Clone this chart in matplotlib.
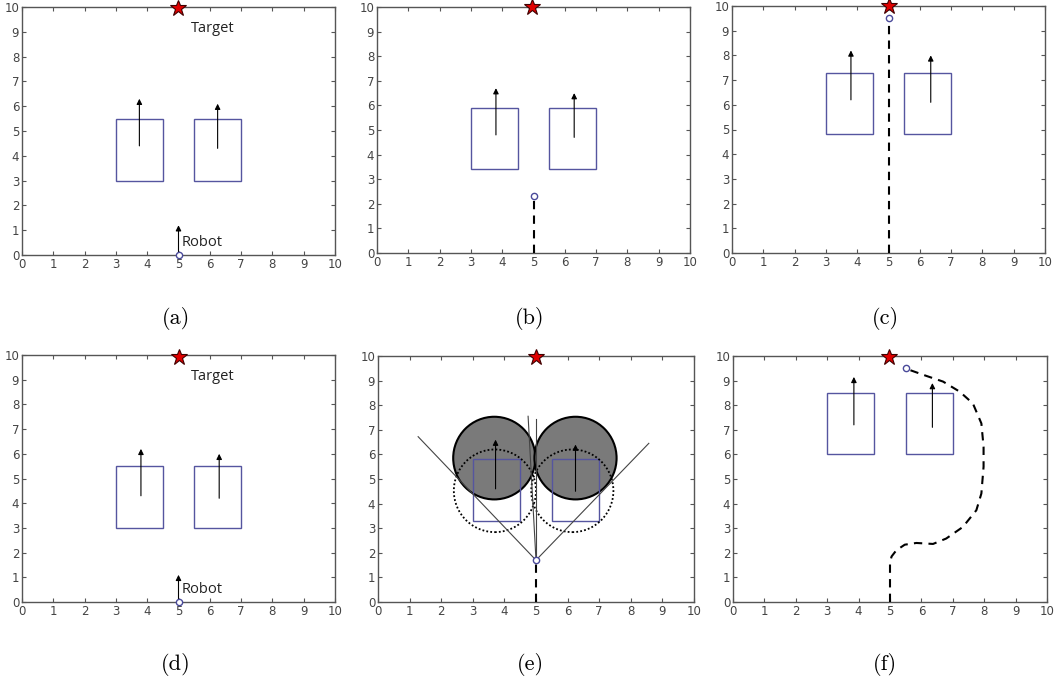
import numpy as np
import matplotlib
matplotlib.use("Agg")
import matplotlib.pyplot as plt
from matplotlib.patches import Rectangle, Ellipse

# ---- data ----
captions = ["(a)", "(b)", "(c)", "(d)", "(e)", "(f)"]

# obstacle rectangles: x spans are the same, y span moves per panel
rect_x = [(3.0, 4.5), (5.5, 7.0)]
rect_bottom = [3.0, 3.4, 4.8, 3.0, 3.3, 6.0]
rect_top = [5.5, 5.9, 7.3, 5.5, 5.8, 8.5]

# obstacle velocity arrows: (x, y_tail, y_head) for left / right obstacle
arrows_left = [(3.75, 4.4, 6.3), (3.8, 4.8, 6.7), (3.8, 6.2, 8.2),
               (3.8, 4.3, 6.2), (3.72, 4.6, 6.6), (3.85, 7.2, 9.15)]
arrows_right = [(6.25, 4.3, 6.1), (6.3, 4.7, 6.5), (6.35, 6.1, 8.0),
                (6.3, 4.2, 6.0), (6.25, 4.5, 6.4), (6.35, 7.1, 8.9)]

# target star
target_x = [4.97, 4.95, 5.0, 5.0, 5.0, 4.97]
target_y = [9.95, 10.0, 10.0, 9.9, 9.95, 9.95]

# robot position
robot_x = [5.0, 5.0, 5.0, 5.0, 5.0, 5.52]
robot_y = [0.0, 2.3, 9.5, 0.0, 1.7, 9.5]

# robot heading arrow (only in a, d)
robot_arrow_top = {0: 1.2, 3: 1.1}

# travelled paths (dashed)
path_b_x = [5.0, 5.0]
path_b_y = [0.0, 2.3]
path_c_x = [5.0, 5.0]
path_c_y = [0.0, 9.5]
path_e_x = [5.0, 5.0]
path_e_y = [0.0, 1.7]
path_f_x = [5.0, 5.0, 5.05, 5.2, 5.47, 5.84, 6.37, 6.79, 7.32, 7.75, 7.91,
            7.98, 7.98, 7.91, 7.64, 7.22, 6.69, 6.16, 5.52]
path_f_y = [0.0, 1.6, 1.85, 2.1, 2.33, 2.4, 2.36, 2.58, 3.05, 3.73, 4.41,
            5.5, 6.31, 7.26, 8.07, 8.55, 8.96, 9.19, 9.48]
paths = {1: (path_b_x, path_b_y), 2: (path_c_x, path_c_y),
         4: (path_e_x, path_e_y), 5: (path_f_x, path_f_y)}

# panel (e): velocity-obstacle construction
vo_center_x = [3.68, 6.25]
vo_center_y = [5.85, 5.85]
vo_w, vo_h = 2.6, 3.36
dot_center_x = [3.7, 6.15]
dot_center_y = [4.52, 4.52]
cone_end_x = [1.27, 8.57, 4.75, 5.0]
cone_end_y = [6.72, 6.45, 7.55, 7.45]

# axes boxes in pixels: left, right, top, bottom
W, H = 1061, 686
boxes = [(22, 335, 7, 255), (377, 690, 7, 253), (732, 1045, 6, 253),
         (22, 335, 355, 602), (378, 694, 356, 602), (733, 1047, 356, 602)]
cap_xy = [(176, 318), (530, 318), (885, 318), (176, 665), (530, 665), (885, 665)]

rect_col = "#55559f"
fig = plt.figure(figsize=(W / 100, H / 100), dpi=100)

for k in range(6):
    l, r, t, b = boxes[k]
    ax = fig.add_axes([l / W, 1 - b / H, (r - l) / W, (b - t) / H])
    ax.set_xlim(0, 10)
    ax.set_ylim(0, 10)
    ax.set_xticks(range(11))
    ax.set_yticks(range(11))
    ax.tick_params(direction="in", length=3, width=0.8, top=True, right=True,
                   labelsize=8.5, labelcolor="#444444", color="#555555", pad=2)
    for s in ax.spines.values():
        s.set_color("#555555")
        s.set_linewidth(1.0)

    if k == 4:
        for cx, cy in zip(vo_center_x, vo_center_y):
            ax.add_patch(Ellipse((cx, cy), vo_w, vo_h, facecolor="#7a7a7a",
                                 edgecolor="black", lw=1.5, zorder=2))

    for x0, x1 in rect_x:
        ax.add_patch(Rectangle((x0, rect_bottom[k]), x1 - x0,
                               rect_top[k] - rect_bottom[k], fill=False,
                               edgecolor=rect_col, lw=1.0, zorder=3))

    if k == 4:
        for cx, cy in zip(dot_center_x, dot_center_y):
            ax.add_patch(Ellipse((cx, cy), vo_w, vo_h, fill=False,
                                 edgecolor="black", lw=1.3, ls=(0, (1, 1.2)),
                                 zorder=3))
        for ex, ey in zip(cone_end_x, cone_end_y):
            ax.plot([robot_x[k], ex], [robot_y[k], ey], color="#444444",
                    lw=0.8, zorder=4)

    for ar in (arrows_left[k], arrows_right[k]):
        ax.annotate("", xy=(ar[0], ar[2]), xytext=(ar[0], ar[1]),
                    arrowprops=dict(arrowstyle="-|>", color="black", lw=0.8,
                                    mutation_scale=8, shrinkA=0, shrinkB=0),
                    zorder=5)

    if k in paths:
        px, py = paths[k]
        ax.plot(px, py, color="black", lw=1.5, ls=(0, (4, 3)), zorder=4,
                clip_on=False)

    if k in robot_arrow_top:
        ax.annotate("", xy=(robot_x[k], robot_arrow_top[k]),
                    xytext=(robot_x[k], robot_y[k]),
                    arrowprops=dict(arrowstyle="-|>", color="black", lw=0.8,
                                    mutation_scale=8, shrinkA=0, shrinkB=0),
                    zorder=5)
        ax.text(5.1, 0.5, "Robot", fontsize=10.5, family="Open Sans",
                color="#222222", va="center", ha="left")
        ax.text(5.4, 9.12, "Target", fontsize=10.5, family="Open Sans",
                color="#222222", va="center", ha="left")

    ax.plot(robot_x[k], robot_y[k], "o", ms=4.5, mfc="white", mec="#4a4a9a",
            mew=1.0, zorder=6, clip_on=False)
    ax.plot(target_x[k], target_y[k], "*", ms=12, mfc="#e00000",
            mec="#400000", mew=0.8, zorder=7, clip_on=False)

    fig.text(cap_xy[k][0] / W, 1 - cap_xy[k][1] / H, captions[k],
             family="cmr10", fontsize=16, ha="center", va="center")

fig.savefig("out.png", dpi=100)
